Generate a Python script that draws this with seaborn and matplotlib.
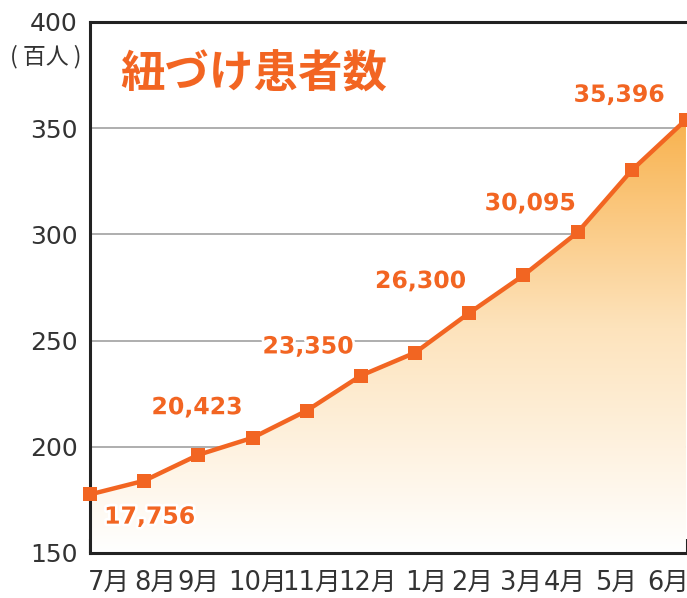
import numpy as np
import pandas as pd
import seaborn as sns
import matplotlib
matplotlib.use("Agg")
import matplotlib.pyplot as plt
import matplotlib.patheffects as path_effects
from matplotlib.colors import LinearSegmentedColormap
from matplotlib.transforms import ScaledTranslation

# data (hundreds of people)
months = ["7月", "8月", "9月", "10月", "11月", "12月", "1月", "2月", "3月", "4月", "5月", "6月"]
patients = [177.56, 184.0, 196.2, 204.23, 217.0, 233.5, 244.3, 263.0, 280.7, 300.95, 330.2, 353.96]
labelled = [0, 3, 5, 7, 9, 11]
label_text = ["17,756", "20,423", "23,350", "26,300", "30,095", "35,396"]
yticks = [150, 200, 250, 300, 350, 400]

orange = "#F26522"
label_offsets = [(43, -16), (-40, 22), (-38, 21), (-35, 23), (-34, 21), (-48, 18)]  # points
month_shift = [14, 8, 0, 3.5, 3.5, 4.5, 8, 2, -2, -9.5, -11, -13]  # points, tick label nudge

sns.set_theme(style="white")
plt.rcParams["font.family"] = ["DejaVu Sans", "Noto Sans CJK JP"]

df = pd.DataFrame({"x": range(len(months)), "month": months, "value": patients})

fig = plt.figure(figsize=(6.87, 5.98), dpi=100)
ax = fig.add_axes([0.131, 0.0753, 0.8675, 0.888])

# gradient area under the curve
cmap = LinearSegmentedColormap.from_list("fade", ["#FFFFFF", "#FDE3BC", "#F8AE45"])
grad = np.linspace(0, 1, 256).reshape(-1, 1)
img = ax.imshow(grad, cmap=cmap, origin="lower", aspect="auto",
                extent=(0, len(months) - 1, 150, 362), zorder=1)
poly = ax.fill_between(df["x"], df["value"], 150, color="none", zorder=1)
img.set_clip_path(poly.get_paths()[0], transform=ax.transData)

sns.lineplot(data=df, x="x", y="value", ax=ax, color=orange, linewidth=3.2,
             marker="s", markersize=10, markeredgewidth=0, zorder=4, clip_on=False)

ax.set_xlim(0, len(months) - 1)
ax.set_ylim(150, 400)
ax.set_yticks(yticks)
ax.set_xticks(df["x"])
ax.set_xticklabels(months)
ax.set_xlabel("")
ax.set_ylabel("")
ax.yaxis.grid(True, color="#999999", linewidth=1.1, zorder=0)
ax.set_axisbelow(True)

for side in ["left", "bottom", "top"]:
    ax.spines[side].set_color("#222222")
    ax.spines[side].set_linewidth(2.2)
ax.spines["right"].set_visible(False)

ax.tick_params(axis="x", direction="in", length=10, width=1.5, color="#222222",
               pad=12, labelsize=18.5, labelcolor="#333333", bottom=True)
ax.tick_params(axis="y", length=0, pad=9, labelsize=18, labelcolor="#333333")

for lbl, dx in zip(ax.get_xticklabels(), month_shift):
    lbl.set_transform(lbl.get_transform() + ScaledTranslation(dx / 72, 0, fig.dpi_scale_trans))

for i, txt, (dx, dy) in zip(labelled, label_text, label_offsets):
    t = ax.annotate(txt, (df["x"][i], df["value"][i]), xytext=(dx, dy),
                    textcoords="offset points", ha="center", va="center",
                    fontsize=17, fontweight="bold", color=orange,
                    family=["DejaVu Sans"], zorder=6, annotation_clip=False)
    t.set_path_effects([path_effects.Stroke(linewidth=4, foreground="white"),
                        path_effects.Normal()])

ax.text(0.275, 0.9, "紐づけ患者数", transform=ax.transAxes, ha="center", va="center",
        fontsize=32, fontweight="bold", color=orange, family=["Noto Sans CJK JP"], zorder=6)
fig.text(0.066, 0.906, "( 百人 )", ha="center", va="center", fontsize=16.5,
         color="#333333", family=["Noto Sans CJK JP"])

fig.savefig("out.png", dpi=100)
